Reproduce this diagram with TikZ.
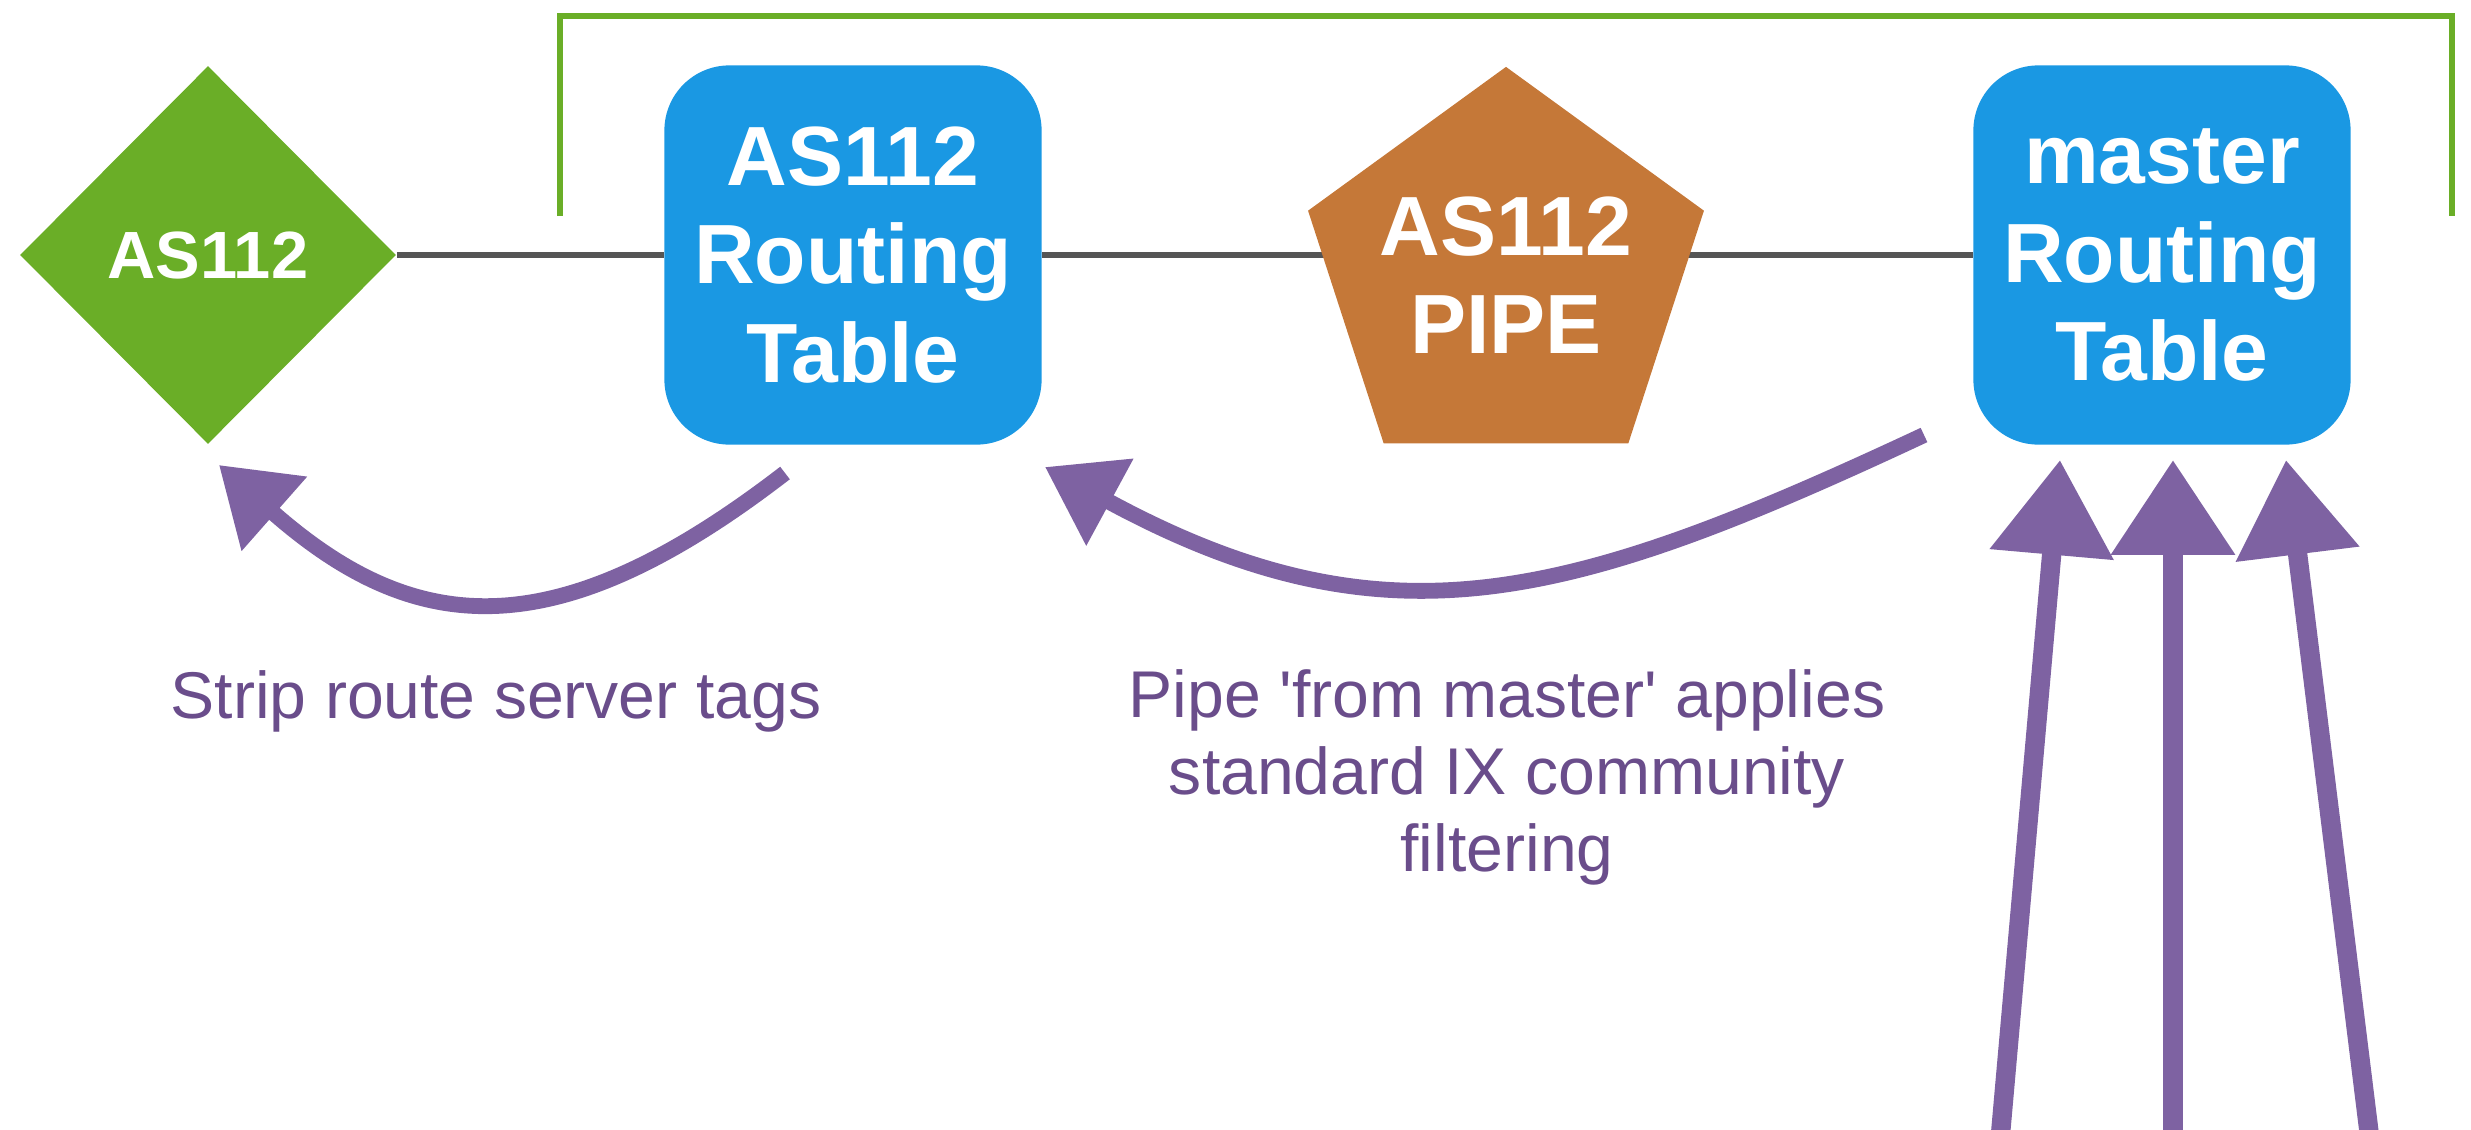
\documentclass[tikz,border=0pt]{standalone}
\usepackage{fontspec}
\setmainfont{Liberation Sans}
\usetikzlibrary{shapes.geometric,arrows.meta,backgrounds}
\definecolor{asgreen}{HTML}{6AAE27}
\definecolor{tblue}{HTML}{1A98E3}
\definecolor{pipeorange}{HTML}{C57838}
\definecolor{chalk}{HTML}{7E62A2}
\definecolor{notetext}{HTML}{6A4D8B}
\definecolor{linkgray}{HTML}{555555}
\tikzset{
  peer/.style={diamond,aspect=1,fill=asgreen,text=white,inner sep=0pt,
    minimum width=3.76cm,minimum height=3.78cm,font=\bfseries\fontsize{19}{22}\selectfont},
  rtable/.style={rectangle,rounded corners=0.65cm,fill=tblue,text=white,align=center,
    minimum width=3.77cm,minimum height=3.79cm,font=\bfseries\fontsize{23.9}{27.9}\selectfont},
  pipenode/.style={regular polygon,regular polygon sides=5,fill=pipeorange,
    inner sep=0pt,minimum size=4.16cm},
  pipelabel/.style={text=white,align=center,font=\bfseries\fontsize{23.9}{27.9}\selectfont},
  note/.style={text=notetext,align=center,font=\fontsize{18.8}{21.9}\selectfont},
  link/.style={draw=linkgray,line width=1.5pt},
  bracket/.style={draw=asgreen,line width=1.5pt},
  chalkarrow/.style={draw=chalk,line width=4.5pt,-{Triangle[width=27pt,length=21pt]}},
  bigchalk/.style={draw=chalk,line width=5.5pt,-{Triangle[width=34pt,length=27pt]}}
}
\begin{document}
\begin{tikzpicture}[x=0.01cm,y=-0.01cm]
\useasboundingbox (0,0) rectangle (2471,1130);
\node[peer] (as) at (208,255) {AS112};
\node[rtable] (rt1) at (853,255) {AS112\\Routing\\Table};
\node[pipenode,label={[pipelabel]center:AS112\\PIPE}] (pipe) at (1506,275) {};
\node[rtable] (rtm) at (2162,255) {master\\Routing\\Table};
\begin{scope}[on background layer]
\draw[link] (as.east) -- (rt1.west);
\draw[link] (rt1.east) -- (rtm.west);
\end{scope}
\coordinate (brl) at (560,216);
\coordinate (brr) at (2452,216);
\draw[bracket] (brl) -- ++(0,-200) -| (brr);
\coordinate (s1) at (785,473);
\coordinate (e1) at (219,465);
\draw[chalkarrow] (s1) .. controls (553,652) and (413,636) .. (e1);
\coordinate (s2) at (1924,435);
\coordinate (e2) at (1045,467);
\draw[chalkarrow] (s2) .. controls (1571,600) and (1388,653) .. (e2);
\coordinate (ua) at (2000,1140);
\coordinate (ub) at (2173,1140);
\coordinate (uc) at (2370,1140);
\coordinate (ta) at (2060,460);
\coordinate (tb) at (2173,460);
\coordinate (tc) at (2286,460);
\draw[bigchalk] (ua) -- (ta);
\draw[bigchalk] (ub) -- (tb);
\draw[bigchalk] (uc) -- (tc);
\node[note] (striptxt) at (496,701) {Strip route server tags};
\node[note] (pipetxt) at (1507,777) {Pipe \textquotesingle from master\textquotesingle{} applies\\standard IX community\\filtering};
\end{tikzpicture}
\end{document}
